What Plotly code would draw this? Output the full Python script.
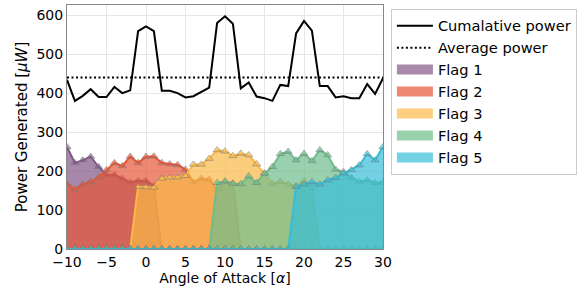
import plotly.graph_objects as go

angles = list(range(-10, 31))

cumulative_power = [434, 380, 393, 410, 390, 390, 416, 400, 407, 559, 571, 559,
                    406, 406, 400, 389, 392, 403, 414, 580, 597, 578, 412, 427,
                    391, 387, 380, 421, 418, 553, 585, 560, 418, 418, 389, 392,
                    387, 387, 423, 398, 438]
average_power = 440

flag1 = [262, 221, 228, 237, 211, 190, 191, 181, 171, 175, 175, 162] + [0] * 29
flag2 = [168, 153, 166, 173, 184, 203, 221, 213, 237, 221, 237, 238, 221, 218,
         216, 204, 172, 181, 179, 152, 173, 170] + [0] * 19
flag3 = [0] * 9 + [160, 159, 158, 181, 184, 184, 188, 217, 217, 232, 254, 251,
                   239, 245, 241, 218, 194, 168, 173, 166, 161, 175, 157] + [0] * 9
flag4 = [0] * 19 + [170, 174, 168, 167, 187, 170, 194, 211, 244, 250, 228, 245,
                    226, 254, 241, 204, 198, 183, 173, 177, 170, 171]
flag5 = [0] * 29 + [160, 166, 172, 166, 177, 183, 194, 203, 215, 244, 228, 262]

flag_names = ["Flag 1", "Flag 2", "Flag 3", "Flag 4", "Flag 5"]
flag_values = [flag1, flag2, flag3, flag4, flag5]
flag_rgb = [(130, 85, 135), (230, 85, 55), (250, 185, 70), (110, 190, 140), (55, 190, 215)]

x_ticks = [-10, -5, 0, 5, 10, 15, 20, 25, 30]
y_ticks = [0, 100, 200, 300, 400, 500, 600]

FONT = "DejaVu Sans"
ALPHA = 0.7


def rgba(c, a):
    return f"rgba({c[0]},{c[1]},{c[2]},{a})"


def blend(c, a):
    return "rgb(" + ",".join(str(round(255 - a * (255 - v))) for v in c) + ")"


fig = go.Figure()

for name, vals, c in zip(flag_names, flag_values, flag_rgb):
    fig.add_trace(go.Scatter(
        x=angles, y=vals, mode="lines+markers", fill="tozeroy",
        fillcolor=rgba(c, ALPHA),
        line=dict(color=rgba(c, 1), width=2),
        marker=dict(symbol="triangle-up", size=7, color=rgba(c, 0.55),
                    line=dict(color="rgba(120,120,120,0.7)", width=0.8)),
        showlegend=False, hoverinfo="skip",
    ))

fig.add_trace(go.Scatter(
    x=angles, y=cumulative_power, mode="lines", name="Cumalative power",
    line=dict(color="black", width=2), legendrank=1,
))
fig.add_trace(go.Scatter(
    x=[angles[0], angles[-1]], y=[average_power, average_power], mode="lines",
    name="Average power", line=dict(color="black", width=2, dash="2px,2.5px"),
    legendrank=2,
))

for i, (name, c) in enumerate(zip(flag_names, flag_rgb)):
    fig.add_trace(go.Scatter(
        x=[None], y=[None], mode="lines", name=name,
        line=dict(color=blend(c, ALPHA), width=10), legendrank=3 + i,
    ))

fig.update_layout(
    width=588, height=291,
    margin=dict(l=67, r=205, t=5, b=42),
    paper_bgcolor="white", plot_bgcolor="white",
    font=dict(family=FONT, size=14, color="black"),
    showlegend=True,
    legend=dict(
        x=1.025, y=0.985, xanchor="left", yanchor="top",
        bordercolor="#cccccc", borderwidth=1, bgcolor="white",
        font=dict(family=FONT, size=14.6), traceorder="normal",
        itemwidth=36,
    ),
)
fig.update_xaxes(
    range=[-10, 30], tickvals=x_ticks, showgrid=True, gridcolor="#e6e6e6",
    showline=True, linecolor="#888888", linewidth=1, mirror=True,
    ticks="", zeroline=False,
    tickfont=dict(size=14),
    title=dict(text="Angle of Attack [<i>α</i>]", font=dict(size=14), standoff=0),
)
fig.update_yaxes(
    range=[0, 626], tickvals=y_ticks, showgrid=True, gridcolor="#e6e6e6",
    showline=True, linecolor="#888888", linewidth=1, mirror=True,
    ticks="", zeroline=False,
    tickfont=dict(size=14),
    title=dict(text="Power Generated [<i>μW</i>]", font=dict(size=15), standoff=5),
)

fig.write_html("out.html", config={"displayModeBar": False},
               post_script="document.body.style.margin='0px';")
